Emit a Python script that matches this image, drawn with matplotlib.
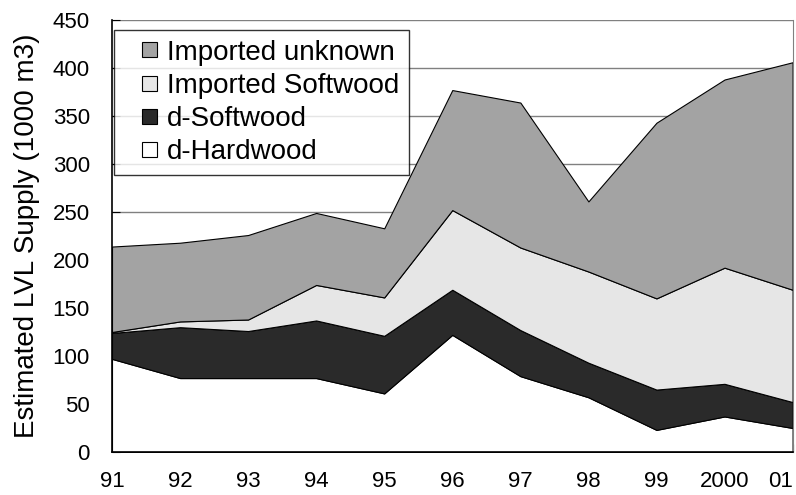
import matplotlib.pyplot as plt
from matplotlib.patches import Rectangle, Patch
from matplotlib.legend_handler import HandlerPatch
import numpy as np

plt.rcParams['font.family'] = ['Liberation Sans', 'DejaVu Sans']

years = ['91', '92', '93', '94', '95', '96', '97', '98', '99', '2000', '01']
d_hardwood = [97, 77, 77, 77, 61, 122, 79, 57, 23, 37, 25]
d_softwood = [27, 53, 49, 60, 60, 47, 48, 36, 42, 34, 27]
imp_softwood = [1, 6, 12, 37, 40, 83, 86, 95, 95, 121, 117]
imp_unknown = [89, 82, 88, 75, 72, 125, 151, 73, 183, 196, 237]

labels = ['d-Hardwood', 'd-Softwood', 'Imported Softwood', 'Imported unknown']
colors = ['white', '#2a2a2a', '#e6e6e6', '#a3a3a3']

fig = plt.figure(figsize=(7.96, 4.95), dpi=100)
ax = fig.add_axes([0.1407, 0.0869, 0.855, 0.8727])

x = np.arange(len(years))
ax.stackplot(x, d_hardwood, d_softwood, imp_softwood, imp_unknown,
             colors=colors, edgecolor='black', linewidth=0.8, zorder=2)

ax.set_xlim(0, len(years) - 1)
ax.set_ylim(0, 450)
ax.set_yticks(range(0, 451, 50))
ax.set_xticks(x)
ax.set_xticklabels(years)
ax.get_xticklabels()[-1].set_horizontalalignment('right')
ax.yaxis.grid(True, color='#808080', linewidth=1)
ax.set_axisbelow(True)
ax.tick_params(direction='in', length=6, labelsize=16)
ax.tick_params(axis='x', pad=14)
ax.tick_params(axis='y', pad=16)
ax.spines['top'].set_visible(False)
ax.spines['right'].set_color('#808080')
ax.spines['left'].set_linewidth(1.2)
ax.spines['bottom'].set_linewidth(1.2)
ax.set_ylabel('Estimated LVL Supply (1000 m3)', fontsize=20, labelpad=9)


# small square sitting at the right end of the handle box
def square(legend, orig_handle, xdescent, ydescent, width, height, fontsize):
    s = 10.8
    return Rectangle((width - xdescent - s, (height - s) / 2 - ydescent), s, s)


handles = [Patch(facecolor=c, edgecolor='black', linewidth=0.8) for c in colors]
leg = ax.legend(handles[::-1], labels[::-1], loc='upper left', fontsize=20,
                frameon=True, fancybox=False, edgecolor='black',
                handler_map={Patch: HandlerPatch(patch_func=square)},
                handlelength=1.2, handleheight=0.7, handletextpad=0.36,
                borderpad=0.35, labelspacing=0.26, borderaxespad=0,
                bbox_to_anchor=(0.003, 0.977))
leg.get_frame().set_linewidth(1.0)
leg.set_zorder(5)

fig.savefig('out.png', dpi=100)
